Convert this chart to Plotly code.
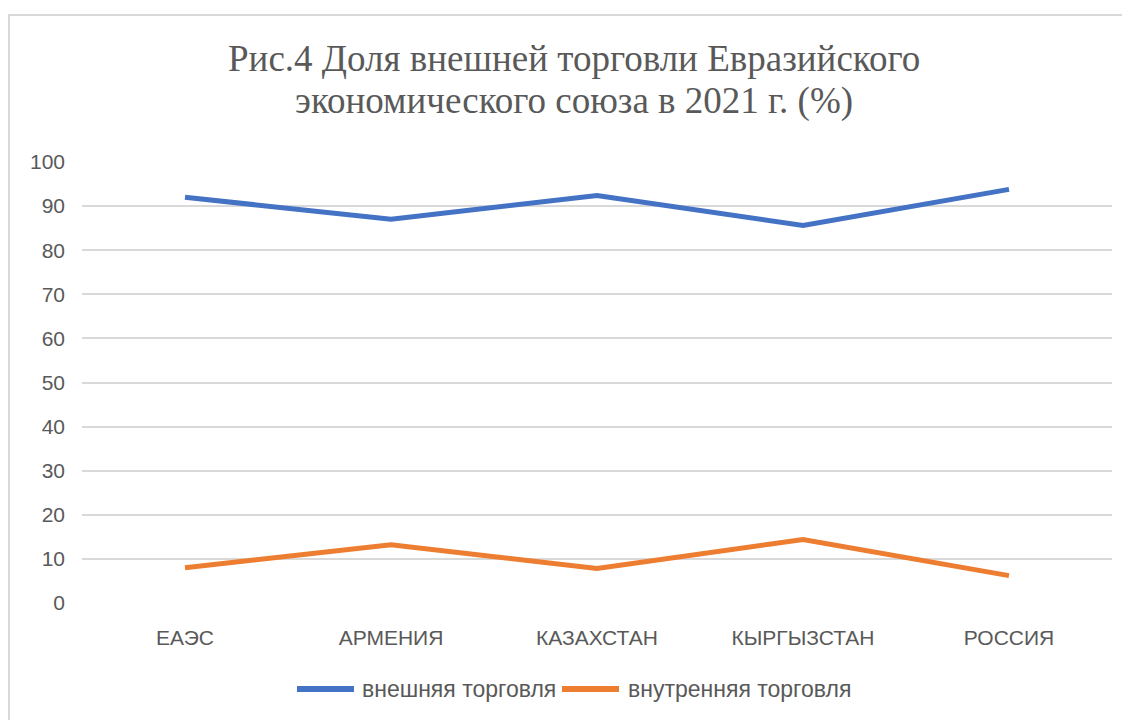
import plotly.graph_objects as go

categories = ["ЕАЭС", "АРМЕНИЯ", "КАЗАХСТАН", "КЫРГЫЗСТАН", "РОССИЯ"]
external_trade = [92.0, 87.0, 92.4, 85.6, 93.8]
internal_trade = [8.0, 13.2, 7.8, 14.4, 6.2]
series_names = ["внешняя торговля", "внутренняя торговля"]
series_colors = ["#4472C4", "#ED7D31"]
y_ticks = [0, 10, 20, 30, 40, 50, 60, 70, 80, 90, 100]
title_lines = ["Рис.4 Доля внешней торговли Евразийского", "экономического союза в 2021 г. (%)"]

# the page body has an 8px margin, so the figure is drawn 8px smaller
OFF = 8
W, H = 1130 - OFF, 720 - OFF
PL, PR, PT, PB = 82, 1112, 162, 603  # plot area in page pixels
pw, ph = PR - PL, PB - PT


def px(x):
    return (x - PL) / pw


def py(y):
    return (PB - y) / ph


fig = go.Figure()
for name, vals, col in zip(series_names, [external_trade, internal_trade], series_colors):
    fig.add_trace(go.Scatter(x=categories, y=vals, mode="lines", name=name,
                             line=dict(color=col, width=5), showlegend=False))

sans = "Liberation Sans, Arial, sans-serif"
serif = "Liberation Serif, Times New Roman, serif"
grey = "#595959"
fig.update_layout(
    width=W, height=H,
    margin=dict(l=PL - OFF, r=W - (PR - OFF), t=PT - OFF, b=H - (PB - OFF)),
    paper_bgcolor="white", plot_bgcolor="white",
    xaxis=dict(type="category", range=[-0.5, 4.5], showgrid=False, showline=False, zeroline=False,
               tickfont=dict(family=sans, size=21, color=grey), ticks="", ticklabelstandoff=20),
    yaxis=dict(range=[0, 100], tickvals=y_ticks, showgrid=True, gridcolor="#D9D9D9", gridwidth=1.5,
               zeroline=False, showline=False,
               tickfont=dict(family=sans, size=21, color=grey), ticks="", ticklabelstandoff=16),
    showlegend=False,
)

# title (two lines)
for text, yc in zip(title_lines, [58, 101]):
    fig.add_annotation(text=text, xref="paper", yref="paper", x=px(574), y=py(yc),
                       xanchor="center", yanchor="middle", showarrow=False,
                       font=dict(family=serif, size=37, color=grey))

# legend (manual, long line symbols)
legend_items = [(297, 354, 360), (562, 619, 626)]
for (x0, x1, tx), name, col in zip(legend_items, series_names, series_colors):
    fig.add_shape(type="line", xref="paper", yref="paper", x0=px(x0), x1=px(x1),
                  y0=py(689), y1=py(689), line=dict(color=col, width=6))
    fig.add_annotation(text=name, xref="paper", yref="paper", x=px(tx), y=py(689),
                       xanchor="left", yanchor="middle", showarrow=False,
                       font=dict(family=sans, size=23, color=grey))

# chart border
fig.add_shape(type="rect", xref="paper", yref="paper",
              x0=px(9), x1=px(1160), y0=py(760), y1=py(15),
              line=dict(color="#D9D9D9", width=2), fillcolor="rgba(0,0,0,0)", layer="below")

fig.write_html("out.html")
